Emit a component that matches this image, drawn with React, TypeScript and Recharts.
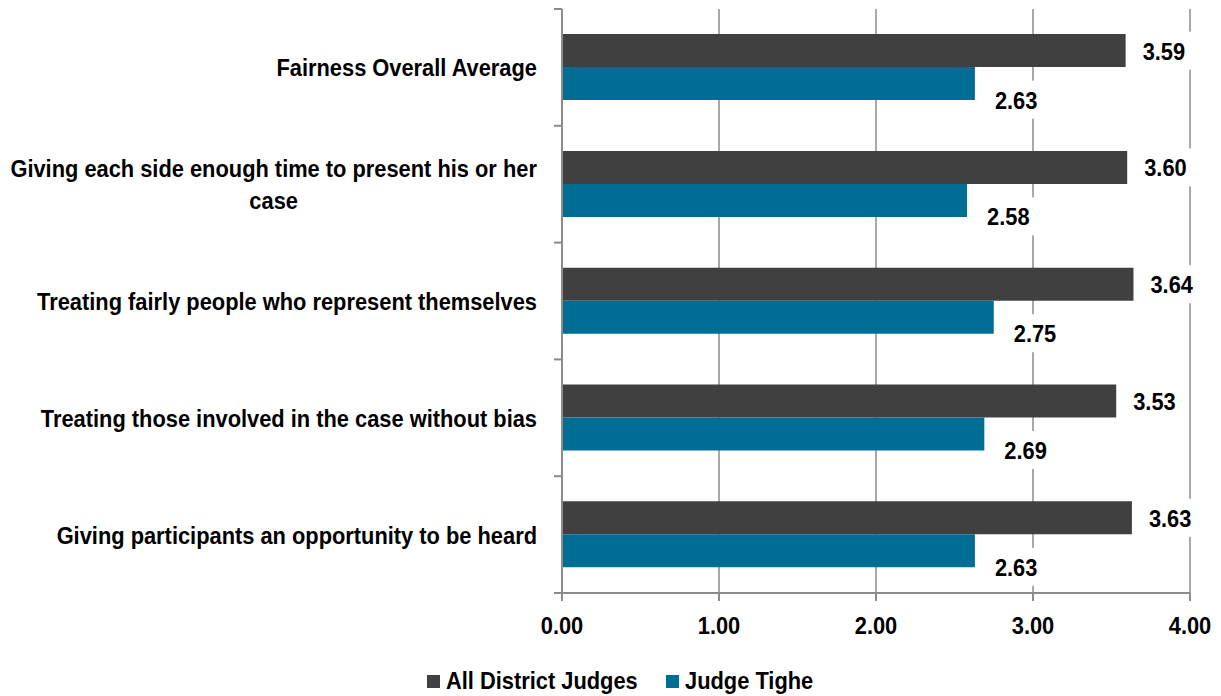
import { BarChart, Bar, XAxis, YAxis, CartesianGrid, Legend, LabelList } from 'recharts';

const categories = [
  'Fairness Overall Average',
  'Giving each side enough time to present his or her case',
  'Treating fairly people who represent themselves',
  'Treating those involved in the case without bias',
  'Giving participants an opportunity to be heard',
];
const allDistrictJudges = [3.59, 3.6, 3.64, 3.53, 3.63];
const judgeTighe = [2.63, 2.58, 2.75, 2.69, 2.63];
const xTicks = [0, 1, 2, 3, 4];
const seriesNames = ['All District Judges', 'Judge Tighe'];

const data = categories.map((name, i) => ({
  name,
  all: allDistrictJudges[i],
  tighe: judgeTighe[i],
}));

// Arial Narrow look-alike: Liberation Sans squeezed horizontally
const FONT = "'Liberation Sans', Arial, sans-serif";
const FONT_SIZE = 24;
const NARROW = 0.91;
const AXIS_GREY = '#8c8c8c';
const DARK = '#404040';
const TEAL = '#006e94';

const W = 1221;
const H = 696;
const TOP = 9;
const PLOT_BOTTOM = 593;
const BAND = (PLOT_BOTTOM - TOP) / categories.length;

let ctx: CanvasRenderingContext2D | null = null;
function measure(s: string) {
  if (!ctx) ctx = document.createElement('canvas').getContext('2d');
  if (!ctx) return s.length * 10;
  ctx.font = `bold ${FONT_SIZE}px ${FONT}`;
  return ctx.measureText(s).width * NARROW;
}

function wrap(s: string, max: number) {
  const words = s.split(' ');
  const lines: string[] = [];
  let cur = '';
  for (const w of words) {
    const next = cur ? cur + ' ' + w : w;
    if (cur && measure(next) > max) {
      lines.push(cur);
      cur = w;
    } else cur = next;
  }
  if (cur) lines.push(cur);
  return lines;
}

function NarrowText({ x, y, anchor, children }: any) {
  return (
    <text
      transform={`translate(${x},${y}) scale(${NARROW},1)`}
      textAnchor={anchor}
      fontFamily={FONT}
      fontWeight="bold"
      fontSize={FONT_SIZE}
      fill="#000"
    >
      {children}
    </text>
  );
}

function CategoryTick(props: any) {
  const { x, y, payload, index } = props;
  const axisX = x + 25;
  const lines = wrap(payload.value, 530);
  const w = Math.max(...lines.map(measure));
  const cx = x - w / 2;
  const lh = 32;
  const start = y - ((lines.length - 1) * lh) / 2;
  return (
    <g>
      <line x1={axisX - 8} x2={axisX} y1={y - BAND / 2} y2={y - BAND / 2} stroke={AXIS_GREY} strokeWidth={2} />
      {index === categories.length - 1 && (
        <line x1={axisX - 8} x2={axisX} y1={y + BAND / 2} y2={y + BAND / 2} stroke={AXIS_GREY} strokeWidth={2} />
      )}
      {lines.map((l, i) => (
        <NarrowText key={i} x={lines.length > 1 ? cx : x} y={start + i * lh + 9} anchor={lines.length > 1 ? 'middle' : 'end'}>
          {l}
        </NarrowText>
      ))}
    </g>
  );
}

function ValueTick(props: any) {
  const { x, y, payload } = props;
  return (
    <NarrowText x={x} y={y + 33} anchor="middle">
      {Number(payload.value).toFixed(2)}
    </NarrowText>
  );
}

function makeLabel(dx: number, dy: number) {
  return (props: any) => {
    const { x, y, width, height, value } = props;
    const tx = x + width + dx;
    const ty = y + height / 2 + dy;
    const tw = measure(Number(value).toFixed(2));
    return (
      <g>
        <rect x={tx - 7} y={ty - 19} width={tw + 14} height={38} fill="#fff" />
        <NarrowText x={tx} y={ty + 9} anchor="start">
          {Number(value).toFixed(2)}
        </NarrowText>
      </g>
    );
  };
}

function LegendContent() {
  const colors = [DARK, TEAL];
  return (
    <div style={{ display: 'flex', justifyContent: 'center', alignItems: 'center', paddingLeft: 50, height: 30 }}>
      {seriesNames.map((n, i) => (
        <div key={n} style={{ display: 'flex', alignItems: 'center', marginRight: i === 0 ? 29 : 0 }}>
          <div style={{ width: 13, height: 13, background: colors[i], marginRight: 6 }} />
          <div style={{ width: measure(n), height: 30, position: 'relative' }}>
            <span
              style={{
                position: 'absolute',
                left: 0,
                top: 1,
                whiteSpace: 'nowrap',
                transform: `scaleX(${NARROW})`,
                transformOrigin: 'left center',
                fontFamily: FONT,
                fontWeight: 'bold',
                fontSize: FONT_SIZE,
                lineHeight: '28px',
                color: '#000',
              }}
            >
              {n}
            </span>
          </div>
        </div>
      ))}
    </div>
  );
}

export default function App() {
  return (
    <div style={{ position: 'absolute', left: 0, top: 0, background: '#fff' }}>
      <BarChart
        width={W}
        height={H}
        data={data}
        layout="vertical"
        margin={{ top: TOP, right: 31, left: 0, bottom: 0 }}
        barCategoryGap="21.5%"
        barGap={0}
      >
        <CartesianGrid horizontal={false} stroke={AXIS_GREY} strokeWidth={1.5} />
        <XAxis
          type="number"
          domain={[0, 4]}
          ticks={xTicks}
          height={73}
          axisLine={{ stroke: AXIS_GREY, strokeWidth: 2 }}
          tickLine={{ stroke: AXIS_GREY, strokeWidth: 2 }}
          tickSize={8}
          tickMargin={0}
          tick={<ValueTick />}
          interval={0}
        />
        <YAxis
          type="category"
          dataKey="name"
          width={562}
          axisLine={{ stroke: AXIS_GREY, strokeWidth: 2 }}
          tickLine={false}
          tickSize={8}
          tickMargin={17}
          tick={<CategoryTick />}
          interval={0}
        />
        <Legend verticalAlign="bottom" height={30} content={<LegendContent />} />
        <Bar dataKey="all" name={seriesNames[0]} fill={DARK} isAnimationActive={false}>
          <LabelList dataKey="all" content={makeLabel(17, 0)} />
        </Bar>
        <Bar dataKey="tighe" name={seriesNames[1]} fill={TEAL} isAnimationActive={false}>
          <LabelList dataKey="tighe" content={makeLabel(20, 16)} />
        </Bar>
      </BarChart>
    </div>
  );
}
